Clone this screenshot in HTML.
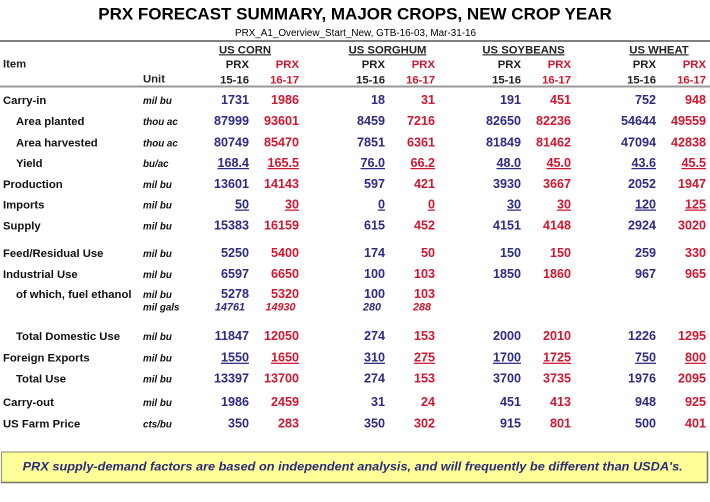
<!DOCTYPE html>
<html>
<head>
<meta charset="utf-8">
<style>
  html,body{margin:0;padding:0;background:#fff;}
  svg{display:block;}
  text{font-family:"Liberation Sans",Arial,Helvetica,sans-serif;}
  .t{font-weight:bold;font-size:17px;fill:#000;}
  .sub{font-size:10px;fill:#000;}
  .hd{font-weight:bold;font-size:11.3px;fill:#222;}
  .hr{font-weight:bold;font-size:11.3px;fill:#cf1730;}
  .lb{font-weight:bold;font-size:11.3px;fill:#111;}
  .un{font-weight:bold;font-style:italic;font-size:9.8px;fill:#111;}
  .b{font-weight:bold;font-size:12.6px;fill:#2e2b83;text-anchor:end;}
  .r{font-weight:bold;font-size:12.6px;fill:#cf1730;text-anchor:end;}
  .bi{font-weight:bold;font-style:italic;font-size:10.8px;fill:#2e2b83;text-anchor:end;}
  .ri{font-weight:bold;font-style:italic;font-size:10.8px;fill:#cf1730;text-anchor:end;}
  .u{text-decoration:underline;}
  .ft{font-weight:bold;font-style:italic;font-size:12px;fill:#2b2b7a;}
</style>
</head>
<body>
<svg width="710" height="502" viewBox="0 0 710 502" xmlns="http://www.w3.org/2000/svg">
  <text class="t" x="355" y="19.5" text-anchor="middle">PRX FORECAST SUMMARY, MAJOR CROPS, NEW CROP YEAR</text>
  <text class="sub" x="355.5" y="36" text-anchor="middle" textLength="241" lengthAdjust="spacingAndGlyphs">PRX_A1_Overview_Start_New, GTB-16-03, Mar-31-16</text>
  <line x1="0" y1="41" x2="710" y2="41" stroke="#555" stroke-width="1.5"/>

  <!-- group headers -->
  <text class="hd u" x="245" y="53.3" text-anchor="middle">US CORN</text>
  <text class="hd u" x="387.5" y="53.3" text-anchor="middle">US SORGHUM</text>
  <text class="hd u" x="523.5" y="53.3" text-anchor="middle">US SOYBEANS</text>
  <text class="hd u" x="659" y="53.3" text-anchor="middle">US WHEAT</text>

  <text class="hd" x="3" y="67.3">Item</text>
  <text class="hd" x="143" y="82.7">Unit</text>

  <g text-anchor="end">
    <text class="hd" x="249" y="68" text-anchor="end">PRX</text>
    <text class="hr" x="299" y="68" text-anchor="end">PRX</text>
    <text class="hd" x="385" y="68" text-anchor="end">PRX</text>
    <text class="hr" x="435" y="68" text-anchor="end">PRX</text>
    <text class="hd" x="521" y="68" text-anchor="end">PRX</text>
    <text class="hr" x="571" y="68" text-anchor="end">PRX</text>
    <text class="hd" x="656" y="68" text-anchor="end">PRX</text>
    <text class="hr" x="706" y="68" text-anchor="end">PRX</text>

    <text class="hd" x="249" y="83.3" text-anchor="end">15-16</text>
    <text class="hr" x="299" y="83.3" text-anchor="end">16-17</text>
    <text class="hd" x="385" y="83.3" text-anchor="end">15-16</text>
    <text class="hr" x="435" y="83.3" text-anchor="end">16-17</text>
    <text class="hd" x="521" y="83.3" text-anchor="end">15-16</text>
    <text class="hr" x="571" y="83.3" text-anchor="end">16-17</text>
    <text class="hd" x="656" y="83.3" text-anchor="end">15-16</text>
    <text class="hr" x="706" y="83.3" text-anchor="end">16-17</text>
  </g>
  <line x1="0" y1="86.5" x2="710" y2="86.5" stroke="#999" stroke-width="2"/>

  <!-- labels -->
  <text class="lb" x="3" y="104">Carry-in</text>
  <text class="lb" x="16" y="125">Area planted</text>
  <text class="lb" x="16" y="146.5">Area harvested</text>
  <text class="lb" x="16" y="167">Yield</text>
  <text class="lb" x="3" y="188">Production</text>
  <text class="lb" x="3" y="208.5">Imports</text>
  <text class="lb" x="3" y="229.5">Supply</text>
  <text class="lb" x="3" y="257">Feed/Residual Use</text>
  <text class="lb" x="3" y="278">Industrial Use</text>
  <text class="lb" x="16" y="298">of which, fuel ethanol</text>
  <text class="lb" x="16" y="340">Total Domestic Use</text>
  <text class="lb" x="3" y="361.7">Foreign Exports</text>
  <text class="lb" x="16" y="382.3">Total Use</text>
  <text class="lb" x="3" y="406">Carry-out</text>
  <text class="lb" x="3" y="427.3">US Farm Price</text>

  <!-- units -->
  <text class="un" x="143" y="104">mil bu</text>
  <text class="un" x="143" y="125">thou ac</text>
  <text class="un" x="143" y="146.5">thou ac</text>
  <text class="un" x="143" y="167">bu/ac</text>
  <text class="un" x="143" y="188">mil bu</text>
  <text class="un" x="143" y="208.5">mil bu</text>
  <text class="un" x="143" y="229.5">mil bu</text>
  <text class="un" x="143" y="257">mil bu</text>
  <text class="un" x="143" y="278">mil bu</text>
  <text class="un" x="143" y="298">mil bu</text>
  <text class="un" x="143" y="310.7">mil gals</text>
  <text class="un" x="143" y="340">mil bu</text>
  <text class="un" x="143" y="361.7">mil bu</text>
  <text class="un" x="143" y="382.3">mil bu</text>
  <text class="un" x="143" y="406">mil bu</text>
  <text class="un" x="143" y="427.3">cts/bu</text>

  <!-- Carry-in -->
  <text class="b" x="249" y="104">1731</text><text class="r" x="299" y="104">1986</text>
  <text class="b" x="385" y="104">18</text><text class="r" x="435" y="104">31</text>
  <text class="b" x="521" y="104">191</text><text class="r" x="571" y="104">451</text>
  <text class="b" x="656" y="104">752</text><text class="r" x="706" y="104">948</text>
  <!-- Area planted -->
  <text class="b" x="249" y="125">87999</text><text class="r" x="299" y="125">93601</text>
  <text class="b" x="385" y="125">8459</text><text class="r" x="435" y="125">7216</text>
  <text class="b" x="521" y="125">82650</text><text class="r" x="571" y="125">82236</text>
  <text class="b" x="656" y="125">54644</text><text class="r" x="706" y="125">49559</text>
  <!-- Area harvested -->
  <text class="b" x="249" y="146.5">80749</text><text class="r" x="299" y="146.5">85470</text>
  <text class="b" x="385" y="146.5">7851</text><text class="r" x="435" y="146.5">6361</text>
  <text class="b" x="521" y="146.5">81849</text><text class="r" x="571" y="146.5">81462</text>
  <text class="b" x="656" y="146.5">47094</text><text class="r" x="706" y="146.5">42838</text>
  <!-- Yield -->
  <text class="b u" x="249" y="167">168.4</text><text class="r u" x="299" y="167">165.5</text>
  <text class="b u" x="385" y="167">76.0</text><text class="r u" x="435" y="167">66.2</text>
  <text class="b u" x="521" y="167">48.0</text><text class="r u" x="571" y="167">45.0</text>
  <text class="b u" x="656" y="167">43.6</text><text class="r u" x="706" y="167">45.5</text>
  <!-- Production -->
  <text class="b" x="249" y="188">13601</text><text class="r" x="299" y="188">14143</text>
  <text class="b" x="385" y="188">597</text><text class="r" x="435" y="188">421</text>
  <text class="b" x="521" y="188">3930</text><text class="r" x="571" y="188">3667</text>
  <text class="b" x="656" y="188">2052</text><text class="r" x="706" y="188">1947</text>
  <!-- Imports -->
  <text class="b u" x="249" y="208.5">50</text><text class="r u" x="299" y="208.5">30</text>
  <text class="b u" x="385" y="208.5">0</text><text class="r u" x="435" y="208.5">0</text>
  <text class="b u" x="521" y="208.5">30</text><text class="r u" x="571" y="208.5">30</text>
  <text class="b u" x="656" y="208.5">120</text><text class="r u" x="706" y="208.5">125</text>
  <!-- Supply -->
  <text class="b" x="249" y="229.5">15383</text><text class="r" x="299" y="229.5">16159</text>
  <text class="b" x="385" y="229.5">615</text><text class="r" x="435" y="229.5">452</text>
  <text class="b" x="521" y="229.5">4151</text><text class="r" x="571" y="229.5">4148</text>
  <text class="b" x="656" y="229.5">2924</text><text class="r" x="706" y="229.5">3020</text>
  <!-- Feed -->
  <text class="b" x="249" y="257">5250</text><text class="r" x="299" y="257">5400</text>
  <text class="b" x="385" y="257">174</text><text class="r" x="435" y="257">50</text>
  <text class="b" x="521" y="257">150</text><text class="r" x="571" y="257">150</text>
  <text class="b" x="656" y="257">259</text><text class="r" x="706" y="257">330</text>
  <!-- Industrial -->
  <text class="b" x="249" y="278">6597</text><text class="r" x="299" y="278">6650</text>
  <text class="b" x="385" y="278">100</text><text class="r" x="435" y="278">103</text>
  <text class="b" x="521" y="278">1850</text><text class="r" x="571" y="278">1860</text>
  <text class="b" x="656" y="278">967</text><text class="r" x="706" y="278">965</text>
  <!-- of which -->
  <text class="b" x="249" y="298">5278</text><text class="r" x="299" y="298">5320</text>
  <text class="b" x="385" y="298">100</text><text class="r" x="435" y="298">103</text>
  <text class="bi" x="245" y="310.7">14761</text><text class="ri" x="295.5" y="310.7">14930</text>
  <text class="bi" x="381" y="310.7">280</text><text class="ri" x="431" y="310.7">288</text>
  <!-- Total Domestic -->
  <text class="b" x="249" y="340">11847</text><text class="r" x="299" y="340">12050</text>
  <text class="b" x="385" y="340">274</text><text class="r" x="435" y="340">153</text>
  <text class="b" x="521" y="340">2000</text><text class="r" x="571" y="340">2010</text>
  <text class="b" x="656" y="340">1226</text><text class="r" x="706" y="340">1295</text>
  <!-- Foreign Exports -->
  <text class="b u" x="249" y="361.7">1550</text><text class="r u" x="299" y="361.7">1650</text>
  <text class="b u" x="385" y="361.7">310</text><text class="r u" x="435" y="361.7">275</text>
  <text class="b u" x="521" y="361.7">1700</text><text class="r u" x="571" y="361.7">1725</text>
  <text class="b u" x="656" y="361.7">750</text><text class="r u" x="706" y="361.7">800</text>
  <!-- Total Use -->
  <text class="b" x="249" y="382.3">13397</text><text class="r" x="299" y="382.3">13700</text>
  <text class="b" x="385" y="382.3">274</text><text class="r" x="435" y="382.3">153</text>
  <text class="b" x="521" y="382.3">3700</text><text class="r" x="571" y="382.3">3735</text>
  <text class="b" x="656" y="382.3">1976</text><text class="r" x="706" y="382.3">2095</text>
  <!-- Carry-out -->
  <text class="b" x="249" y="406">1986</text><text class="r" x="299" y="406">2459</text>
  <text class="b" x="385" y="406">31</text><text class="r" x="435" y="406">24</text>
  <text class="b" x="521" y="406">451</text><text class="r" x="571" y="406">413</text>
  <text class="b" x="656" y="406">948</text><text class="r" x="706" y="406">925</text>
  <!-- Farm price -->
  <text class="b" x="249" y="427.3">350</text><text class="r" x="299" y="427.3">283</text>
  <text class="b" x="385" y="427.3">350</text><text class="r" x="435" y="427.3">302</text>
  <text class="b" x="521" y="427.3">915</text><text class="r" x="571" y="427.3">801</text>
  <text class="b" x="656" y="427.3">500</text><text class="r" x="706" y="427.3">401</text>

  <!-- footer box -->
  <rect x="1.5" y="452" width="706" height="30.5" fill="#ffff99" stroke="#9a9a80" stroke-width="1.2"/>
  <line x1="1.5" y1="482.5" x2="707.5" y2="482.5" stroke="#7a7a60" stroke-width="1.5"/>
  <line x1="707.5" y1="452" x2="707.5" y2="482.5" stroke="#7a7a60" stroke-width="1.5"/>
  <text class="ft" x="22.7" y="470.3" textLength="660" lengthAdjust="spacingAndGlyphs">PRX supply-demand factors are based on independent analysis, and will frequently be different than USDA's.</text>
</svg>
</body>
</html>
